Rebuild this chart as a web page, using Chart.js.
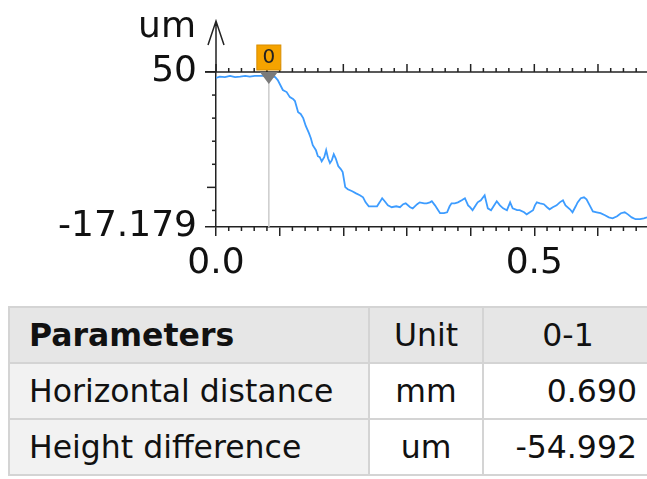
<!DOCTYPE html>
<html>
<head>
<meta charset="utf-8">
<script src="https://cdn.jsdelivr.net/npm/chart.js@4.4.0/dist/chart.umd.min.js"></script>
<style>
  html, body { margin: 0; padding: 0; background: #fff; overflow: hidden; width: 647px; height: 479px; }
  #wrap { position: absolute; left: 0; top: 0; width: 647px; height: 295px; }
  table {
    position: absolute; left: 8px; top: 306px; width: 644px; table-layout: fixed;
    border-collapse: collapse; font-family: 'DejaVu Sans', Verdana, sans-serif;
    font-size: 31.5px; color: #111;
  }
  td, th { border: 2px solid #d4d4d4; height: 54px; padding: 0; white-space: nowrap; }
  th { background: #e6e6e6; font-weight: normal; }
  th.first { font-weight: bold; text-align: left; padding-left: 19px; }
  td.first { background: #f2f2f2; text-align: left; padding-left: 19px; }
  td.unit, th.unit { text-align: center; }
  td.val { text-align: right; padding-right: 15px; }
  th.val { text-align: center; }
</style>
</head>
<body>
<div id="wrap"><canvas id="grafico" width="647" height="295"></canvas></div>
<table id="tabela">
  <colgroup><col style="width:360px"><col style="width:114px"><col style="width:170px"></colgroup>
  <tbody id="corpo"></tbody>
</table>
<script>
// perfil medido (mm, um)
const profileX = [0.000, 0.006, 0.014, 0.022, 0.030, 0.038, 0.046, 0.053, 0.061, 0.069, 0.077, 0.085, 0.093, 0.097,
  0.105, 0.111, 0.116, 0.121, 0.124, 0.129, 0.133, 0.137, 0.141, 0.146, 0.149, 0.152, 0.157, 0.160, 0.163, 0.166,
  0.170, 0.173, 0.176, 0.179, 0.182, 0.185, 0.188, 0.192, 0.196, 0.199, 0.203, 0.207, 0.214, 0.220, 0.226, 0.231,
  0.235, 0.240, 0.246, 0.253, 0.257, 0.261, 0.265, 0.270, 0.276, 0.283, 0.289, 0.294, 0.298, 0.305, 0.309, 0.316,
  0.320, 0.327, 0.331, 0.336, 0.339, 0.344, 0.349, 0.352, 0.358, 0.363, 0.367, 0.370, 0.375, 0.380, 0.386, 0.391,
  0.396, 0.399, 0.403, 0.408, 0.411, 0.416, 0.422, 0.427, 0.432, 0.436, 0.441, 0.446, 0.451, 0.457, 0.462, 0.466,
  0.473, 0.477, 0.484, 0.488, 0.493, 0.498, 0.501, 0.504, 0.509, 0.515, 0.520, 0.524, 0.529, 0.535, 0.540, 0.545,
  0.549, 0.556, 0.560, 0.565, 0.568, 0.573, 0.578, 0.582, 0.587, 0.592, 0.598, 0.604, 0.611, 0.617, 0.623, 0.630,
  0.636, 0.642, 0.647, 0.653, 0.659, 0.666, 0.672, 0.677, 0.689];
const profileY = [47.4, 48.0, 47.8, 48.3, 47.8, 48.0, 48.3, 48.0, 48.3, 48.3, 48.3, 48.3, 47.8, 46.5,
  42.2, 41.3, 39.1, 38.3, 37.4, 32.6, 31.8, 30.0, 26.6, 23.5, 21.3, 18.3, 16.1, 13.5, 13.1, 11.3,
  13.1, 16.1, 12.6, 10.5, 11.8, 14.4, 12.6, 9.2, 7.9, 6.6, 0.1, -0.8, -1.7, -2.6, -3.4, -4.3,
  -6.5, -8.2, -8.2, -8.2, -6.5, -4.7, -6.0, -7.8, -8.6, -8.2, -8.6, -7.3, -6.9, -8.6, -9.1, -7.3,
  -6.5, -6.9, -6.9, -6.5, -6.0, -7.8, -9.9, -11.2, -11.2, -10.8, -8.2, -6.9, -6.9, -6.5, -5.6, -4.7,
  -7.8, -8.6, -9.9, -7.8, -6.5, -5.6, -3.4, -9.1, -9.9, -8.2, -6.0, -7.8, -9.1, -9.9, -6.5, -9.1,
  -9.9, -9.9, -10.8, -11.7, -10.8, -9.9, -7.8, -6.5, -6.9, -7.3, -8.6, -9.5, -8.6, -7.8, -6.5, -5.6,
  -7.8, -9.5, -10.8, -8.2, -6.5, -4.7, -4.3, -5.2, -7.8, -10.4, -10.8, -11.2, -12.1, -13.0, -13.4, -12.5,
  -11.2, -10.8, -11.7, -13.0, -13.8, -13.8, -13.4, -13.0, -12.5];

const xMin = 0, xMax = 0.677;
const yMin = -17.179, yMax = 50;
const xTickLabels = [0, 0.5];
const yTickLabels = [-17.179, 50];
const yMinorTicks = [40, 30, 20, 10, 0, -10];
const yUnit = 'um';

const markerX = [0.083];
const markerNames = ['0'];

const tableHeader = ['Parameters', 'Unit', '0-1'];
const paramNames = ['Horizontal distance', 'Height difference'];
const paramUnits = ['mm', 'um'];
const paramValues = ['0.690', '-54.992'];

const fonte = "'DejaVu Sans', Verdana, sans-serif";
const corEixo = '#222';

// tabela
const corpo = document.getElementById('corpo');
let html = '<tr><th class="first">' + tableHeader[0] + '</th><th class="unit">' + tableHeader[1] +
  '</th><th class="val">' + tableHeader[2] + '</th></tr>';
paramNames.forEach((n, i) => {
  html += '<tr><td class="first">' + n + '</td><td class="unit">' + paramUnits[i] +
    '</td><td class="val">' + paramValues[i] + '</td></tr>';
});
corpo.innerHTML = html;

const decoracao = {
  id: 'decoracao',
  beforeDatasetsDraw(chart) {
    const { ctx, chartArea, scales } = chart;
    ctx.save();
    ctx.strokeStyle = '#cccccc';
    ctx.lineWidth = 1.5;
    markerX.forEach(v => {
      const px = scales.x.getPixelForValue(v);
      ctx.beginPath();
      ctx.moveTo(px, chartArea.top);
      ctx.lineTo(px, chartArea.bottom);
      ctx.stroke();
    });
    ctx.restore();
  },
  afterDatasetsDraw(chart) {
    const { ctx, chartArea, scales } = chart;
    const { left, right, top, bottom } = chartArea;
    ctx.save();
    ctx.strokeStyle = corEixo;
    ctx.lineWidth = 1.5;

    // linha de cima
    ctx.beginPath();
    ctx.moveTo(left - 11, top);
    ctx.lineTo(right, top);
    ctx.stroke();

    // ticks menores em x (cima e baixo)
    for (let i = 0; i * 0.02 <= xMax + 1e-9; i++) {
      const px = scales.x.getPixelForValue(i * 0.02);
      const major = i % 5 === 0;
      ctx.beginPath();
      ctx.moveTo(px, top);
      ctx.lineTo(px, top - (major ? 8 : 4));
      if (!major) {
        ctx.moveTo(px, bottom);
        ctx.lineTo(px, bottom + 4);
      }
      ctx.stroke();
    }

    // ticks menores em y
    yMinorTicks.forEach(v => {
      const py = scales.y.getPixelForValue(v);
      ctx.beginPath();
      ctx.moveTo(left, py);
      ctx.lineTo(left - (v === 0 ? 9 : 4), py);
      ctx.stroke();
    });

    // seta do eixo y
    ctx.beginPath();
    ctx.moveTo(left, top);
    ctx.lineTo(left, top - 51);
    ctx.moveTo(left - 8, top - 27);
    ctx.lineTo(left, top - 51);
    ctx.lineTo(left + 8, top - 27);
    ctx.stroke();

    ctx.fillStyle = '#111';
    ctx.font = '36px ' + fonte;
    ctx.textAlign = 'right';
    ctx.textBaseline = 'middle';
    ctx.fillText(yUnit, left - 20, top - 44);

    // marcadores
    markerX.forEach((v, i) => {
      const px = scales.x.getPixelForValue(v);
      ctx.fillStyle = '#7a7a7a';
      ctx.beginPath();
      ctx.moveTo(px - 9, top);
      ctx.lineTo(px + 9, top);
      ctx.lineTo(px, top + 12);
      ctx.closePath();
      ctx.fill();
      ctx.fillStyle = '#f5a300';
      ctx.fillRect(px - 12, top - 27, 24, 25);
      ctx.strokeStyle = '#d98e00';
      ctx.lineWidth = 1;
      ctx.strokeRect(px - 12, top - 27, 24, 25);
      ctx.fillStyle = '#222';
      ctx.font = '20px ' + fonte;
      ctx.textAlign = 'center';
      ctx.fillText(markerNames[i], px, top - 14);
    });
    ctx.restore();
  }
};

const ctx = document.getElementById('grafico').getContext('2d');
new Chart(ctx, {
  type: 'line',
  data: {
    datasets: [{
      data: profileX.map((x, i) => ({ x: x, y: profileY[i] })),
      borderColor: '#3d9cff',
      borderWidth: 1.8,
      pointRadius: 0,
      tension: 0,
      fill: false
    }]
  },
  options: {
    responsive: false,
    animation: false,
    layout: { padding: { top: 72, right: 0, left: 0, bottom: 0 } },
    plugins: { legend: { display: false }, tooltip: { enabled: false } },
    scales: {
      x: {
        type: 'linear',
        min: xMin,
        max: xMax,
        afterBuildTicks: scale => {
          const t = [];
          for (let i = 0; i <= 6; i++) t.push({ value: i / 10 });
          scale.ticks = t;
        },
        afterFit: scale => { scale.height = 68; },
        ticks: {
          autoSkip: false,
          maxRotation: 0,
          padding: 6,
          color: '#111',
          font: { family: fonte, size: 36 },
          callback: v => xTickLabels.some(l => Math.abs(l - v) < 1e-9) ? v.toFixed(1) : ''
        },
        grid: { drawOnChartArea: false, tickLength: 9, color: corEixo, lineWidth: 1.5 },
        border: { display: true, color: corEixo, width: 1.5 }
      },
      y: {
        min: yMin,
        max: yMax,
        afterBuildTicks: scale => { scale.ticks = yTickLabels.map(v => ({ value: v })); },
        afterFit: scale => { scale.width = 216; },
        ticks: {
          padding: 8,
          color: '#111',
          font: { family: fonte, size: 36 },
          callback: v => String(v)
        },
        grid: { drawOnChartArea: false, tickLength: 11, color: corEixo, lineWidth: 1.5 },
        border: { display: true, color: corEixo, width: 1.5 }
      }
    }
  },
  plugins: [decoracao]
});
</script>
</body>
</html>
